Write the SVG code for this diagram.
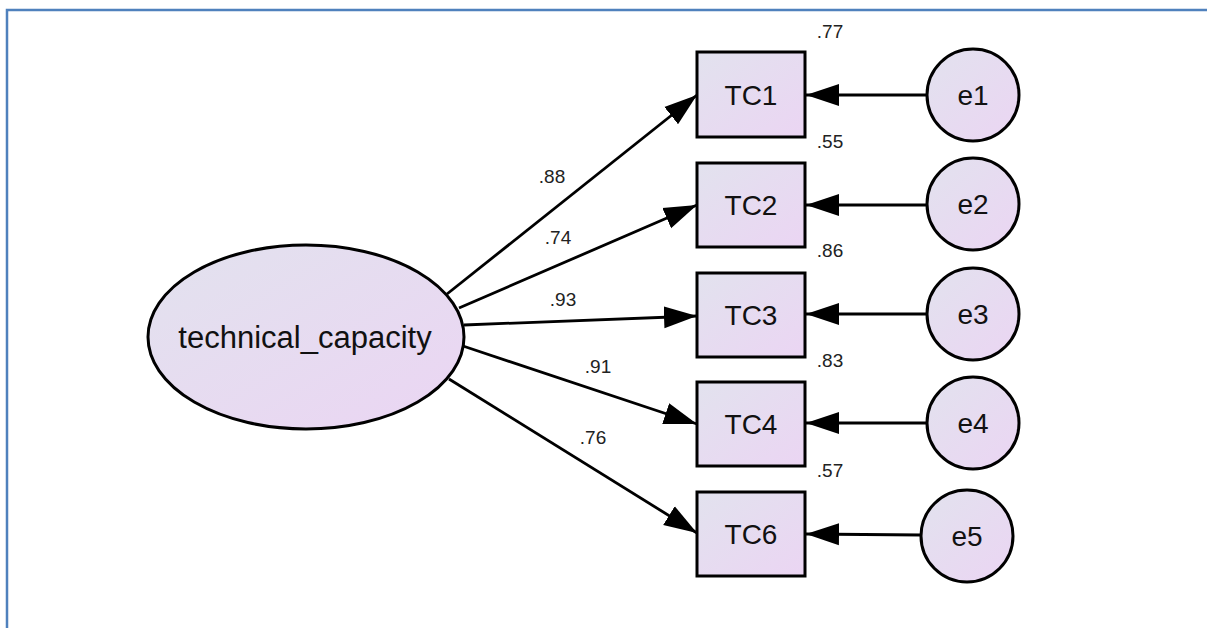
<svg xmlns="http://www.w3.org/2000/svg" width="1207" height="628" viewBox="0 0 1207 628">
<style>
.shape{stroke:#000;stroke-width:3;fill:url(#g)}
.lbl{font-family:"Liberation Sans",Arial,sans-serif;font-size:28px;fill:#111;text-anchor:middle;dominant-baseline:central}
.big{font-size:31px}
.num{font-family:"Liberation Sans",Arial,sans-serif;font-size:19px;fill:#222;text-anchor:middle}
.edge{stroke:#000;stroke-width:2.8;fill:none;marker-end:url(#ah)}
</style>
<defs>
<linearGradient id="g" x1="0" y1="0" x2="1" y2="1">
<stop offset="0" stop-color="#e2e2ee"/>
<stop offset="1" stop-color="#ebd5f3"/>
</linearGradient>
<marker id="ah" markerUnits="userSpaceOnUse" markerWidth="34" markerHeight="24" refX="33" refY="12" orient="auto">
<path d="M0,1 L33,12 L0,23 Z" fill="#000"/>
</marker>
</defs>
<rect width="1207" height="628" fill="#fff"/>
<path d="M7,628 V10 H1207" fill="none" stroke="#4f81bd" stroke-width="2.5"/>
<g id="connectors">
<line class="edge" x1="447" y1="294" x2="697" y2="95"/>
<line class="edge" x1="459" y1="308" x2="697" y2="205"/>
<line class="edge" x1="464" y1="325" x2="697" y2="316"/>
<line class="edge" x1="463" y1="346" x2="697" y2="424"/>
<line class="edge" x1="449" y1="379" x2="697" y2="533"/>
<line class="edge" x1="927" y1="95" x2="806" y2="95"/>
<line class="edge" x1="927" y1="205" x2="806" y2="205"/>
<line class="edge" x1="927" y1="314" x2="806" y2="314"/>
<line class="edge" x1="927" y1="423" x2="806" y2="423"/>
<line class="edge" x1="921" y1="535" x2="806" y2="534"/>
</g>
<g id="labels">
<text class="num" x="552" y="183">.88</text>
<text class="num" x="558" y="244">.74</text>
<text class="num" x="563" y="306">.93</text>
<text class="num" x="598" y="373">.91</text>
<text class="num" x="593" y="444">.76</text>
<text class="num" x="830" y="38">.77</text>
<text class="num" x="830" y="148">.55</text>
<text class="num" x="830" y="257">.86</text>
<text class="num" x="830" y="367">.83</text>
<text class="num" x="830" y="477">.57</text>
</g>
<g id="technical_capacity">
<ellipse class="shape" cx="306" cy="337" rx="158" ry="92"/>
<text class="lbl big" x="305" y="337">technical_capacity</text>
</g>
<g id="TC1"><rect class="shape" x="697" y="52" width="108" height="85"/><text class="lbl" x="751" y="95">TC1</text></g>
<g id="TC2"><rect class="shape" x="697" y="163" width="108" height="84"/><text class="lbl" x="751" y="205">TC2</text></g>
<g id="TC3"><rect class="shape" x="697" y="273" width="108" height="84"/><text class="lbl" x="751" y="315">TC3</text></g>
<g id="TC4"><rect class="shape" x="697" y="382" width="108" height="84"/><text class="lbl" x="751" y="424">TC4</text></g>
<g id="TC6"><rect class="shape" x="697" y="492" width="108" height="84"/><text class="lbl" x="751" y="534">TC6</text></g>
<g id="e1"><circle class="shape" cx="973" cy="95" r="46"/><text class="lbl" x="973" y="95">e1</text></g>
<g id="e2"><circle class="shape" cx="973" cy="204" r="46"/><text class="lbl" x="973" y="204">e2</text></g>
<g id="e3"><circle class="shape" cx="973" cy="314" r="46"/><text class="lbl" x="973" y="314">e3</text></g>
<g id="e4"><circle class="shape" cx="973" cy="423" r="46"/><text class="lbl" x="973" y="423">e4</text></g>
<g id="e5"><circle class="shape" cx="967" cy="536" r="46"/><text class="lbl" x="967" y="536">e5</text></g>
</svg>
